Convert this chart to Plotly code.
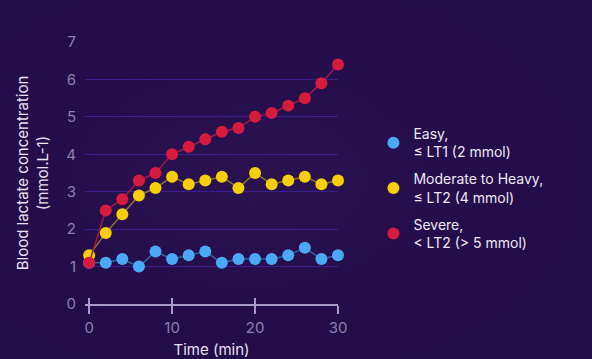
import plotly.graph_objects as go

time_min = [0, 2, 4, 6, 8, 10, 12, 14, 16, 18, 20, 22, 24, 26, 28, 30]
easy = [1.1, 1.1, 1.2, 1.0, 1.4, 1.2, 1.3, 1.4, 1.1, 1.2, 1.2, 1.2, 1.3, 1.5, 1.2, 1.3]
moderate = [1.3, 1.9, 2.4, 2.9, 3.1, 3.4, 3.2, 3.3, 3.4, 3.1, 3.5, 3.2, 3.3, 3.4, 3.2, 3.3]
severe = [1.1, 2.5, 2.8, 3.3, 3.5, 4.0, 4.2, 4.4, 4.6, 4.7, 5.0, 5.1, 5.3, 5.5, 5.9, 6.4]

series_names = ["Easy,<br>≤ LT1 (2 mmol)", "Moderate to Heavy,<br>≤ LT2 (4 mmol)", "Severe,<br>< LT2 (> 5 mmol)"]
marker_colors = ["#4aa8f5", "#f5cf0a", "#d61c3e"]
line_colors = ["#34609e", "#8c7434", "#a31a44"]

BG = "#210b48"
FONT = "Inter, Roboto, sans-serif"

fig = go.Figure()
for vals, mc, lc in zip([easy, moderate, severe], marker_colors, line_colors):
    fig.add_trace(go.Scatter(
        x=time_min, y=vals, mode="lines+markers",
        line=dict(color=lc, width=1.5),
        marker=dict(color=mc, size=12),
        showlegend=False, cliponaxis=False, hoverinfo="skip",
    ))
for i, (name, mc) in enumerate(zip(series_names, marker_colors)):
    fig.add_trace(go.Scatter(
        x=[None], y=[None], mode="markers", name=name, legendgroup=f"g{i}",
        marker=dict(color=mc, size=14), xaxis="x2",
    ))

fig.update_layout(
    width=592, height=359,
    paper_bgcolor="rgba(0,0,0,0)", plot_bgcolor="rgba(0,0,0,0)",
    margin=dict(l=85, r=254, t=42, b=55, autoexpand=False),
    font=dict(family=FONT, color="#e6e1f2", size=14),
    xaxis=dict(
        range=[-0.5, 30], tickvals=[0, 10, 20, 30], automargin=False,
        showgrid=False, zeroline=False,
        showline=True, linecolor="#a99cca", linewidth=2,
        ticks="outside", ticklen=8, tickwidth=2, tickcolor="#a99cca",
        tickfont=dict(color="#8c82ad", size=15), ticklabelstandoff=1,
        title=dict(text="Time (min)", font=dict(size=15, color="#e6e1f2"), standoff=8),
    ),
    xaxis2=dict(
        overlaying="x", matches="x", range=[-0.5, 30], tickvals=[0, 10, 20, 30],
        showgrid=False, zeroline=False, showline=False, showticklabels=False,
        ticks="inside", ticklen=6, tickwidth=2, tickcolor="#a99cca", automargin=False,
    ),
    yaxis=dict(
        range=[0, 7], dtick=1, showgrid=True, gridcolor="#3a1f8c", gridwidth=1,
        zeroline=False, showline=False, automargin=False,
        tickfont=dict(color="#8c82ad", size=15), ticklabelstandoff=8,
        title=dict(text="Blood lactate concentration<br>(mmol.L-1)", font=dict(size=15, color="#e6e1f2"), standoff=14),
    ),
    legend=dict(
        x=1.14, y=0.71, xanchor="left", yanchor="top",
        bgcolor="rgba(0,0,0,0)", font=dict(size=14, color="#ece8f5"),
        tracegroupgap=6, itemsizing="constant",
    ),
)

fig.write_html(
    "out.html",
    config={"displayModeBar": False},
    post_script=(
        "document.body.style.margin='0';"
        "document.documentElement.style.background='" + BG + "';"
        "document.body.style.background='radial-gradient(ellipse 60% 60% at 42% 50%, #2b1150 0%, " + BG + " 100%)';"
        "document.body.style.minHeight='359px';"
    ),
)
